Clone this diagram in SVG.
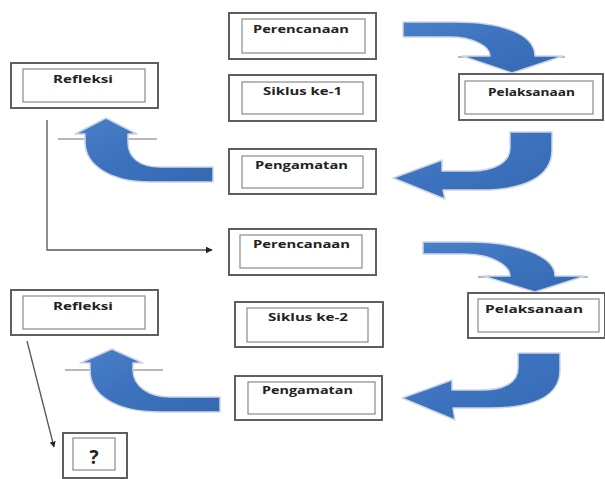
<svg xmlns="http://www.w3.org/2000/svg" width="605" height="479" viewBox="0 0 605 479">
<defs>
<linearGradient id="blue" x1="0" y1="0" x2="1" y2="1">
<stop offset="0" stop-color="#4a80c9"/>
<stop offset="0.5" stop-color="#3c72bd"/>
<stop offset="1" stop-color="#3768b2"/>
</linearGradient>
<marker id="ah" viewBox="0 0 10 10" refX="9" refY="5" markerWidth="7" markerHeight="7" markerUnits="userSpaceOnUse" orient="auto">
<path d="M0,0 L10,5 L0,10 Z" fill="#222"/>
</marker>
<marker id="ah2" viewBox="0 0 10 10" refX="9" refY="5" markerWidth="6" markerHeight="6" markerUnits="userSpaceOnUse" orient="auto">
<path d="M0,0 L10,5 L0,10 Z" fill="#222"/>
</marker>
</defs>
<style>
.outer{fill:#fff;stroke:#5f5f5f;stroke-width:2}
.inner{fill:none;stroke:#8a8a8a;stroke-width:1.2}
.lbl{font-family:"Open Sans","Liberation Sans",sans-serif;font-weight:bold;font-size:11px;fill:#222;text-anchor:middle}
.arr{fill:url(#blue);stroke:#cdd6e4;stroke-width:1.5;stroke-linejoin:round}
.base{stroke:#a0a0a0;stroke-width:1.5}
.conn{fill:none;stroke:#555;stroke-width:1.3}
</style>
<rect width="605" height="479" fill="#fff"/>

<g id="connectors">
<polyline class="conn" points="47,120 47,250 212,250" marker-end="url(#ah)"/>
<line class="conn" x1="27" y1="341" x2="54" y2="447" marker-end="url(#ah2)"/>
<line class="base" x1="458" y1="57" x2="565" y2="57"/>
<path class="arr" d="M403,22 L455,22 C505,22 535,35 535,56 L563,56 L512,73 L462,56 L490,56 C490,45 470,37 450,37 L403,37 Z"/>
<path class="arr" d="M510,132 L552,132 L552,150 C552,178 522,190 482,190 L443,190 L445,199 L393,178 L442,160 L442,171 L470,171 C495,171 510,162 510,148 Z"/>
<line class="base" x1="58" y1="139" x2="157" y2="139"/>
<path class="arr" d="M213,167 L213,182 L150,182 C110,182 85,165 85,142 L85,134 L75,134 L106,118 L137,134 L128,134 L128,142 C128,158 140,167 160,167 Z"/>
<line class="base" x1="478" y1="277" x2="588" y2="277"/>
<path class="arr" d="M423,242 L470,242 C515,242 555,255 555,276 L585,276 L535,292 L483,276 L510,276 C510,265 490,254 465,254 L423,254 Z"/>
<path class="arr" d="M518,353 L560,353 L560,370 C560,398 530,408 490,408 L453,408 L455,420 L402,398 L452,380 L452,390 L480,390 C505,390 518,382 518,368 Z"/>
<line class="base" x1="65" y1="370" x2="163" y2="370"/>
<path class="arr" d="M220,397 L220,412 L160,412 C115,412 90,395 90,370 L90,363 L80,363 L112,349 L143,363 L133,363 L133,370 C133,387 150,397 170,397 Z"/>
</g>

<g id="perencanaan1">
<rect class="outer" x="229" y="13" width="147" height="46"/>
<rect class="inner" x="242" y="19" width="123" height="34"/>
<text class="lbl" x="301" y="33" textLength="96" lengthAdjust="spacingAndGlyphs">Perencanaan</text>
</g>
<g id="siklus1">
<rect class="outer" x="229" y="75" width="147" height="46"/>
<rect class="inner" x="242" y="82" width="121" height="32"/>
<text class="lbl" x="302.5" y="95" textLength="79" lengthAdjust="spacingAndGlyphs">Siklus ke-1</text>
</g>
<g id="pelaksanaan1">
<rect class="outer" x="459" y="74" width="144" height="46"/>
<rect class="inner" x="465" y="81" width="128" height="33"/>
<text class="lbl" x="531.5" y="96" textLength="87" lengthAdjust="spacingAndGlyphs">Pelaksanaan</text>
</g>
<g id="refleksi1">
<rect class="outer" x="11" y="63" width="147" height="45"/>
<rect class="inner" x="23" y="69" width="122" height="33"/>
<text class="lbl" x="83" y="83" textLength="60" lengthAdjust="spacingAndGlyphs">Refleksi</text>
</g>
<g id="pengamatan1">
<rect class="outer" x="229" y="149" width="147" height="45"/>
<rect class="inner" x="242" y="156" width="121" height="32"/>
<text class="lbl" x="301.5" y="169" textLength="93" lengthAdjust="spacingAndGlyphs">Pengamatan</text>
</g>
<g id="perencanaan2">
<rect class="outer" x="229" y="229" width="147" height="46"/>
<rect class="inner" x="240" y="235" width="122" height="33"/>
<text class="lbl" x="301.5" y="248" textLength="97" lengthAdjust="spacingAndGlyphs">Perencanaan</text>
</g>
<g id="refleksi2">
<rect class="outer" x="11" y="290" width="147" height="45"/>
<rect class="inner" x="23" y="296" width="122" height="33"/>
<text class="lbl" x="83" y="310" textLength="60" lengthAdjust="spacingAndGlyphs">Refleksi</text>
</g>
<g id="siklus2">
<rect class="outer" x="235" y="302" width="148" height="45"/>
<rect class="inner" x="247" y="308" width="121" height="34"/>
<text class="lbl" x="308" y="321" textLength="80" lengthAdjust="spacingAndGlyphs">Siklus ke-2</text>
</g>
<g id="pelaksanaan2">
<rect class="outer" x="468" y="293" width="137" height="45"/>
<rect class="inner" x="478" y="299" width="121" height="33"/>
<text class="lbl" x="534" y="313" textLength="98" lengthAdjust="spacingAndGlyphs">Pelaksanaan</text>
</g>
<g id="pengamatan2">
<rect class="outer" x="235" y="376" width="147" height="44"/>
<rect class="inner" x="248" y="382" width="127" height="32"/>
<text class="lbl" x="307.5" y="394" textLength="91" lengthAdjust="spacingAndGlyphs">Pengamatan</text>
</g>
<g id="unknown">
<rect class="outer" x="63" y="433" width="64" height="45"/>
<rect class="inner" x="73" y="438" width="42" height="32"/>
<text class="lbl" x="94" y="464" style="font-size:19px">?</text>
</g>
</svg>
